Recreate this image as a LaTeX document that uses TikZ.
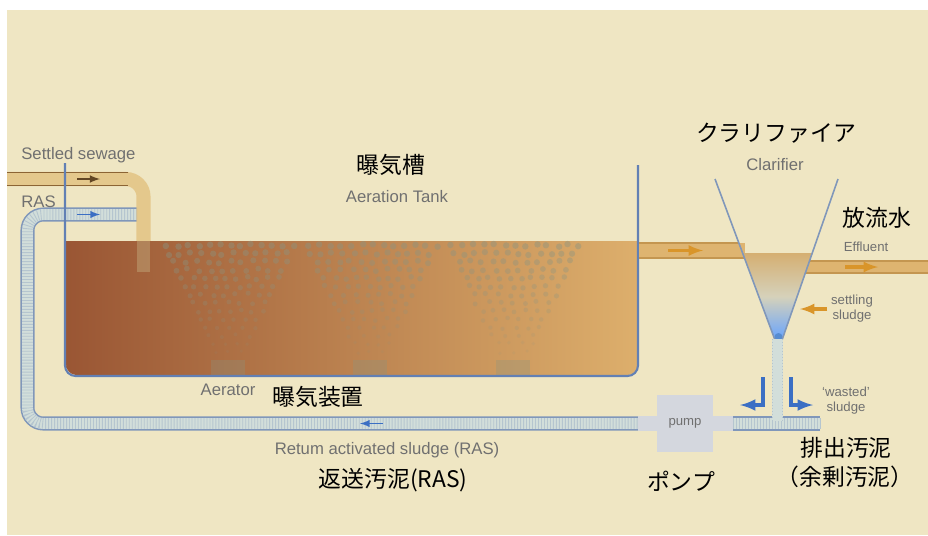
\documentclass[tikz,border=0pt]{standalone}
\usepackage{fontspec}
\setmainfont{Liberation Sans}
\newfontfamily\jpfont{Noto Sans CJK JP}

\definecolor{cream}{HTML}{EFE6C3}
\definecolor{mud}{HTML}{9A5634}
\definecolor{sand}{HTML}{DDAF6C}
\definecolor{wall}{HTML}{6280B4}
\definecolor{ras}{HTML}{D2DEDA}
\definecolor{rasedge}{HTML}{8097BA}
\definecolor{sewage}{HTML}{E2C17F}
\definecolor{sewedge}{HTML}{8C6434}
\definecolor{feed}{HTML}{DEB470}
\definecolor{feededge}{HTML}{C49650}
\definecolor{flow}{HTML}{D9952A}
\definecolor{wasteblue}{HTML}{3B6FC4}
\definecolor{label}{HTML}{707070}
\definecolor{pumpgrey}{HTML}{D4D7DE}
\definecolor{bubble}{HTML}{8A9482}

\tikzset{
  en/.style={font=\fontsize{9.5}{11}\selectfont,text=label,inner sep=0pt},
  small/.style={font=\fontsize{7.5}{8.5}\selectfont,text=label,inner sep=0pt,align=center},
  jp/.style={font=\jpfont\fontsize{13}{16}\selectfont,inner sep=0pt,align=center},
  raspipe/.style={draw=rasedge,line width=8pt,
    postaction={draw=ras,line width=6.2pt},
    postaction={draw=rasedge!35!ras,line width=6.2pt,dash pattern=on 0.5pt off 1.2pt}},
  tankwall/.style={draw=wall,line width=1.2pt},
  clarline/.style={draw=rasedge,line width=0.9pt}
}

\begin{document}
\begin{tikzpicture}[x=0.02cm,y=-0.02cm]
  \useasboundingbox (0,0) rectangle (928,535);
  \fill[white] (0,0) rectangle (928,535);
  \fill[cream] (7,10) rectangle (928,535);

  %% return sludge line (left leg and bottom run)
  \draw[raspipe,rounded corners=9pt] (137,214.5) -- (27.5,214.5) -- (27.5,423.5) -- (638,423.5);
  \draw[-latex,wasteblue,line width=0.9pt] (77,214.5) -- (100,214.5);
  \draw[-latex,wasteblue,line width=0.9pt] (383,423.5) -- (360,423.5);

  %% settled sewage inlet
  \draw[sewage,line width=8pt,rounded corners=10pt,opacity=0.8] (7,179) -- (143.5,179) -- (143.5,272);
  \draw[sewedge,line width=0.7pt] (7,172.5) -- (128,172.5) (7,185.5) -- (128,185.5);
  \draw[-latex,sewedge!70!black,line width=1pt] (77,179) -- (100,179);

  %% aeration tank contents
  \shade[left color=mud,right color=sand] (66,241) [rounded corners=6pt] -- (66,375) -- (638,375) [sharp corners] -- (638,241) -- cycle;
  \draw[sewage!70!gray,line width=7pt,opacity=0.45] (143.5,241) -- (143.5,272);

  %% aerators with rising bubbles
  \foreach \cx in {228,370,513}{
    \fill[bubble,opacity=0.3] (\cx-17,360) rectangle (\cx+17,375);
  }
  \pgfmathsetseed{11}
  \foreach \cx in {228,370,513}{
    \foreach \k in {0,...,13}{
      \pgfmathsetmacro{\yy}{352-8.2*\k}
      \pgfmathsetmacro{\hw}{13+3.9*\k}
      \pgfmathtruncatemacro{\nn}{2*\hw/10.5}
      \foreach \j in {0,...,\nn}{
        \pgfmathsetmacro{\xx}{\cx-\hw+\j*2*\hw/\nn+mod(\k,2)*2.5+1.5*rand}
        \fill[bubble,opacity={0.1+0.025*\k}] (\xx,\yy+1.5*rand) circle[radius={1.8+0.11*\k}];
      }
    }
  }

  %% tank walls
  \draw[tankwall] (65,163) [rounded corners=6pt] -- (65,376) -- (638,376) [sharp corners] -- (638,165);

  %% feed to clarifier
  \fill[feed] (639,243) rectangle (745,258);
  \draw[feededge,line width=0.6pt] (639,243) -- (739,243) (639,258) -- (745,258);
  \draw[-latex,flow,line width=1.8pt] (668,250.5) -- (703,250.5);

  %% effluent
  \fill[feed] (805,261) rectangle (928,273);
  \draw[feededge,line width=0.6pt] (809,261) -- (928,261) (805,273) -- (928,273);
  \draw[-latex,flow,line width=1.8pt] (845,267) -- (878,267);

  %% clarifier cone
  \shade[top color=feed!90!gray,bottom color=cyan!40!blue!60!white,middle color=ras!70!feed]
    (742.6,253) -- (812.2,253) -- (782,340) -- (775,340) -- cycle;
  \fill[cyan!50!blue!70!white] (778.5,337) circle[radius=4];
  \draw[clarline] (715,179) -- (775,340);
  \draw[clarline] (838,179) -- (782,340);
  \draw[-latex,flow,line width=1.8pt] (827,309) -- (800,309);

  %% pump and outlet pipes
  \fill[pumpgrey] (638,416) rectangle (733,431);
  \node[fill=pumpgrey,minimum width=31.5pt,minimum height=32pt,inner sep=0pt,small] (pump) at (685,423.5) {pump};
  \draw[raspipe] (733,423.5) -- (820,423.5);
  \draw[raspipe,line width=6.4pt,postaction={draw=ras,line width=4.8pt}] (777.5,339) -- (777.5,421);

  %% wasted sludge
  \draw[-latex,wasteblue,line width=2pt] (763,377) -- (763,405) -- (740,405);
  \draw[-latex,wasteblue,line width=2pt] (791,377) -- (791,405) -- (813,405);

  %% labels
  \node[en,anchor=west] (sewagelbl) at (21,155) {Settled sewage};
  \node[en,anchor=west] (raslbl) at (21,202) {RAS};
  \node[jp] (tankjp) at (391,165) {曝気槽};
  \node[en] (tanklbl) at (397,197) {Aeration Tank};
  \node[jp] (clarjp) at (776,133) {クラリファイア};
  \node[en] (clarlbl) at (775,165) {Clarifier};
  \node[jp] (effjp) at (877,218) {放流水};
  \node[small] (efflbl) at (866,247) {Effluent};
  \node[small] (settlelbl) at (852,309) {settling\\sludge};
  \node[small] (wastelbl) at (846,401) {`wasted'\\sludge};
  \node[jp] (wastejp) at (846,448) {排出汚泥};
  \node[jp] (surplusjp) at (845,477) {（余剰汚泥）};
  \node[jp] (pumpjp) at (681,481) {ポンプ};
  \node[en] (aeratorlbl) at (228,390) {Aerator};
  \node[jp] (aeratorjp) at (318,397) {曝気装置};
  \node[en] (returnlbl) at (387,450) {Retum activated sludge (RAS)};
  \node[jp] (returnjp) at (393,480) {返送汚泥(RAS)};
\end{tikzpicture}
\end{document}
